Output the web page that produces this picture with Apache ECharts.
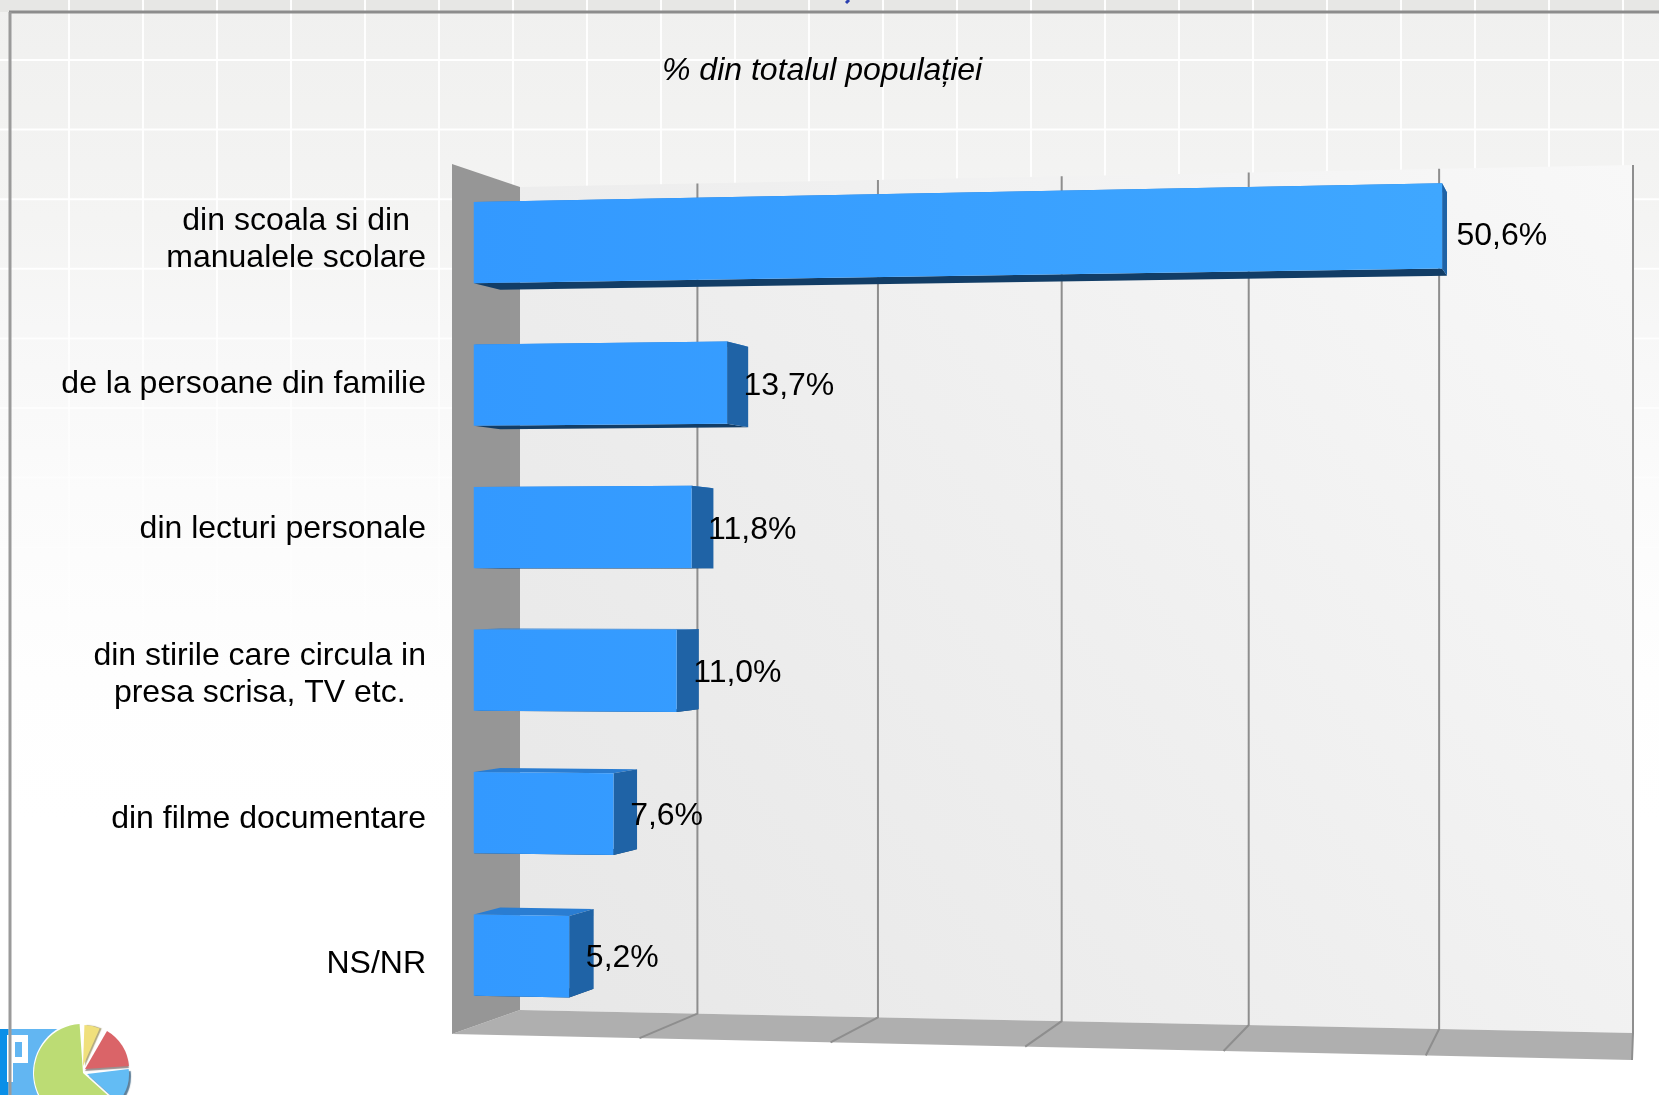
<!DOCTYPE html>
<html>
<head>
<meta charset="utf-8">
<style>html,body{margin:0;padding:0;background:#fff}#c{width:1659px;height:1095px}</style>
<script src="https://cdn.jsdelivr.net/npm/echarts@6/dist/echarts.min.js"></script>
</head>
<body>
<div id="c"></div>
<script>
const categories = ['din scoala si din\nmanualele scolare','de la persoane din familie','din lecturi personale','din stirile care circula in\npresa scrisa, TV etc.','din filme documentare','NS/NR'];
const values = [50.6,13.7,11.8,11.0,7.6,5.2];
const gridTicks = [10,20,30,40,50,60];
const chartTitle = '% din totalul populației';

const FONT = '"Liberation Sans", Arial, sans-serif';
const W = 1659, H = 1095;

function quadMap(q){
  const [x0,y0]=q[0],[x1,y1]=q[1],[x2,y2]=q[2],[x3,y3]=q[3];
  const dx1=x1-x2,dx2=x3-x2,sx=x0-x1+x2-x3,dy1=y1-y2,dy2=y3-y2,sy=y0-y1+y2-y3;
  const det=dx1*dy2-dx2*dy1;
  const g=(sx*dy2-dx2*sy)/det,h=(dx1*sy-sx*dy1)/det;
  const a=x1-x0+g*x1,b=x3-x0+h*x3,d=y1-y0+g*y1,e=y3-y0+h*y3;
  return (u,v)=>{const w=g*u+h*v+1;return [(a*u+b*v+x0)/w,(d*u+e*v+y0)/w];};
}
const frontPlane = quadMap([[452,164],[1632,139],[1632,1060],[452,1034]]);
const backPlane  = quadMap([[520,187],[1633,165],[1633,1033],[520,1010]]);
function project(u,v,d){
  const f=frontPlane(u,v),b=backPlane(u,v);
  return [f[0]+(b[0]-f[0])*d,f[1]+(b[1]-f[1])*d];
}
const BAR_FRONT=0.32, BAR_BACK=0.71, BAR_FILL=0.57;

function toUnit(params,pt){
  const r=params.coordSys;
  return [(pt[0]-r.x)/r.width,(pt[1]-r.y)/r.height];
}
function poly(points,fill,extra){
  return Object.assign({type:'polygon',shape:{points},style:{fill}},extra||{});
}

function renderWalls(params,api){
  const back=[project(0,0,1),project(1,0,1),project(1,1,1),project(0,1,1)];
  const left=[project(0,0,0),project(0,0,1),project(0,1,1),project(0,1,0)];
  const floor=[project(0,1,0),project(0,1,1),project(1,1,1),project(1,1,0)];
  return {type:'group',children:[
    poly(back,{type:'linear',x:0,y:1,x2:1,y2:0,colorStops:[{offset:0,color:'#e7e7e7'},{offset:0.5,color:'#efefef'},{offset:1,color:'#f8f8f8'}]}),
    poly(floor,'#afafaf'),
    poly(left,'#969696')
  ]};
}
function renderGridLine(params,api){
  const c=api.coord([api.value(0),0]);
  const u=toUnit(params,c)[0];
  return {type:'polyline',shape:{points:[project(u,0,1),project(u,1,1),project(u,1,0)]},
    style:{fill:null,stroke:'#8e8e8e',lineWidth:2}};
}
function renderBar(params,api){
  const val=api.value(0),idx=api.value(1);
  const c=api.coord([val,idx]), o=toUnit(params,api.coord([0,idx]));
  const pu=toUnit(params,c);
  const half=api.size([0,1])[1]*BAR_FILL/2/params.coordSys.height;
  const u0=o[0],u1=pu[0],v0=pu[1]-half,v1=pu[1]+half;
  const F=BAR_FRONT,B=BAR_BACK;
  const front=[project(u0,v0,F),project(u1,v0,F),project(u1,v1,F),project(u0,v1,F)];
  const top=[project(u0,v0,F),project(u1,v0,F),project(u1,v0,B),project(u0,v0,B)];
  const bottom=[project(u0,v1,F),project(u1,v1,F),project(u1,v1,B),project(u0,v1,B)];
  const side=[project(u1,v0,F),project(u1,v0,B),project(u1,v1,B),project(u1,v1,F)];
  const endB=project(u1,pu[1],B), endF=project(u1,pu[1],F);
  return {type:'group',children:[
    poly(top,'#2a7dd2'),
    poly(bottom,'#123d66'),
    poly(side,'#1f63a6'),
    poly(front,{type:'linear',global:true,x:474,y:0,x2:1442,y2:0,colorStops:[{offset:0,color:'#3399ff'},{offset:1,color:'#3fa7ff'}]}),
    {type:'text',z2:10,style:{text:val.toFixed(1).replace('.',',')+'%',
      x:endB[0]-9.8+0.38*val,y:endF[1]+0.2*val+0.5,
      fill:'#000',font:'32px '+FONT,align:'left',verticalAlign:'middle'}}
  ]};
}

// decorative slide backdrop
const backdrop=[];
backdrop.push({type:'rect',z:-10,shape:{x:0,y:0,width:W,height:H},style:{fill:{type:'linear',global:true,x:0,y:0,x2:0,y2:H,colorStops:[
  {offset:0,color:'#f0f0ef'},{offset:0.2,color:'#f4f4f3'},{offset:0.3,color:'#f7f7f7'},{offset:0.45,color:'#fbfbfb'},{offset:0.62,color:'#fefefe'},{offset:0.75,color:'#ffffff'},{offset:1,color:'#ffffff'}]}}});
backdrop.push({type:'rect',z:-9,shape:{x:0,y:0,width:W,height:12},style:{fill:'#e7e7e5'}});
const lineAlpha=y=>y<290?0.95:Math.max(0,0.95-(y-290)/400);
const fade={type:'linear',global:true,x:0,y:0,x2:0,y2:820,colorStops:[{offset:0,color:'rgba(255,255,255,0.95)'},{offset:0.35,color:'rgba(255,255,255,0.95)'},{offset:0.6,color:'rgba(255,255,255,0.45)'},{offset:1,color:'rgba(255,255,255,0)'}]};
for(let x=69;x<W;x+=74) backdrop.push({type:'rect',z:-8,shape:{x:x-1,y:0,width:2,height:820},style:{fill:fade}});
for(let y=60;y<820;y+=69.6) backdrop.push({type:'line',z:-8,shape:{x1:0,y1:y,x2:W,y2:y},style:{stroke:'rgba(255,255,255,'+lineAlpha(y)+')',lineWidth:2}});
// logo, bottom left
const deg=a=>a*Math.PI/180;
const logo=[
  {type:'rect',z:-4,shape:{x:0,y:1029,width:8,height:66},style:{fill:'#0a8fe8'}},
  {type:'rect',z:-4,shape:{x:8,y:1029,width:58,height:66},style:{fill:'#62b6f2'}},
  {type:'polygon',z:-3,shape:{points:[[7,1035],[28,1035],[28,1063],[13,1063],[13,1082],[7,1082]]},style:{fill:'#ffffff'}},
  {type:'rect',z:-3,shape:{x:15,y:1042,width:7,height:15},style:{fill:'#62b6f2'}},
  {type:'circle',z:-3,shape:{cx:85,cy:1073,r:52},style:{fill:'#ffffff'}},
  {type:'sector',z:-2,shape:{cx:83,cy:1073,r:49,r0:0,startAngle:deg(42),endAngle:deg(266),clockwise:true},style:{fill:'#bcdc74'}},
  {type:'sector',z:-2,shape:{cx:87,cy:1074,r:42,r0:0,startAngle:deg(-7),endAngle:deg(42),clockwise:true},style:{fill:'#63bcf4',shadowColor:'#5f7f98',shadowOffsetX:2,shadowOffsetY:2,shadowBlur:1}},
  {type:'sector',z:-2,shape:{cx:85,cy:1069,r:44,r0:0,startAngle:deg(-60),endAngle:deg(-4),clockwise:true},style:{fill:'#da6468',shadowColor:'#9a8f8f',shadowOffsetX:0,shadowOffsetY:2,shadowBlur:1}},
  {type:'sector',z:-2,shape:{cx:83,cy:1066,r:41,r0:0,startAngle:deg(-88),endAngle:deg(-66),clockwise:true},style:{fill:'#f0e07c',shadowColor:'#b0a880',shadowOffsetX:2,shadowOffsetY:0,shadowBlur:1}}
];
const frameLines=[
  {type:'line',z:-1,shape:{x1:9,y1:12,x2:W,y2:12},style:{stroke:'#8c8c8c',lineWidth:3}},
  {type:'line',z:-1,shape:{x1:10,y1:12,x2:10,y2:H},style:{stroke:'#9a9a9a',lineWidth:3}},
  {type:'line',z:-1,shape:{x1:849,y1:0,x2:846,y2:3},style:{stroke:'#2a3fb0',lineWidth:3}}
];

const chart=echarts.init(document.getElementById('c'),null,{renderer:'canvas'});
chart.setOption({
  animation:false,
  backgroundColor:'#ffffff',
  title:{text:chartTitle,left:662,top:55,padding:0,textStyle:{fontFamily:FONT,fontSize:32,fontStyle:'italic',fontWeight:'normal',color:'#000'}},
  grid:{left:452,top:164,width:1180,height:870,containLabel:false},
  xAxis:{type:'value',min:0,max:60,interval:10,axisLabel:{show:false},axisLine:{show:false},axisTick:{show:false},splitLine:{show:false}},
  yAxis:{type:'category',inverse:true,data:categories,axisLine:{show:false},axisTick:{show:false},
    axisLabel:{margin:26,align:'right',verticalAlign:'middle',padding:[6,0,0,0],formatter:s=>s.split('\n').map(l=>'{c|'+l+'}').join('\n'),
      rich:{c:{align:'center',fontFamily:FONT,fontSize:32,lineHeight:37,color:'#000'}}}},
  graphic:{elements:[...backdrop,...logo,...frameLines]},
  series:[
    {type:'custom',z:1,silent:true,renderItem:renderWalls,data:[[0,0]],encode:{x:0,y:1}},
    {type:'custom',z:2,silent:true,renderItem:renderGridLine,data:gridTicks.map(t=>[t,0]),encode:{x:0,y:1}},
    {type:'custom',z:3,silent:true,renderItem:renderBar,data:values.map((v,i)=>[v,i]),encode:{x:0,y:1}}
  ]
});
</script>
</body>
</html>
